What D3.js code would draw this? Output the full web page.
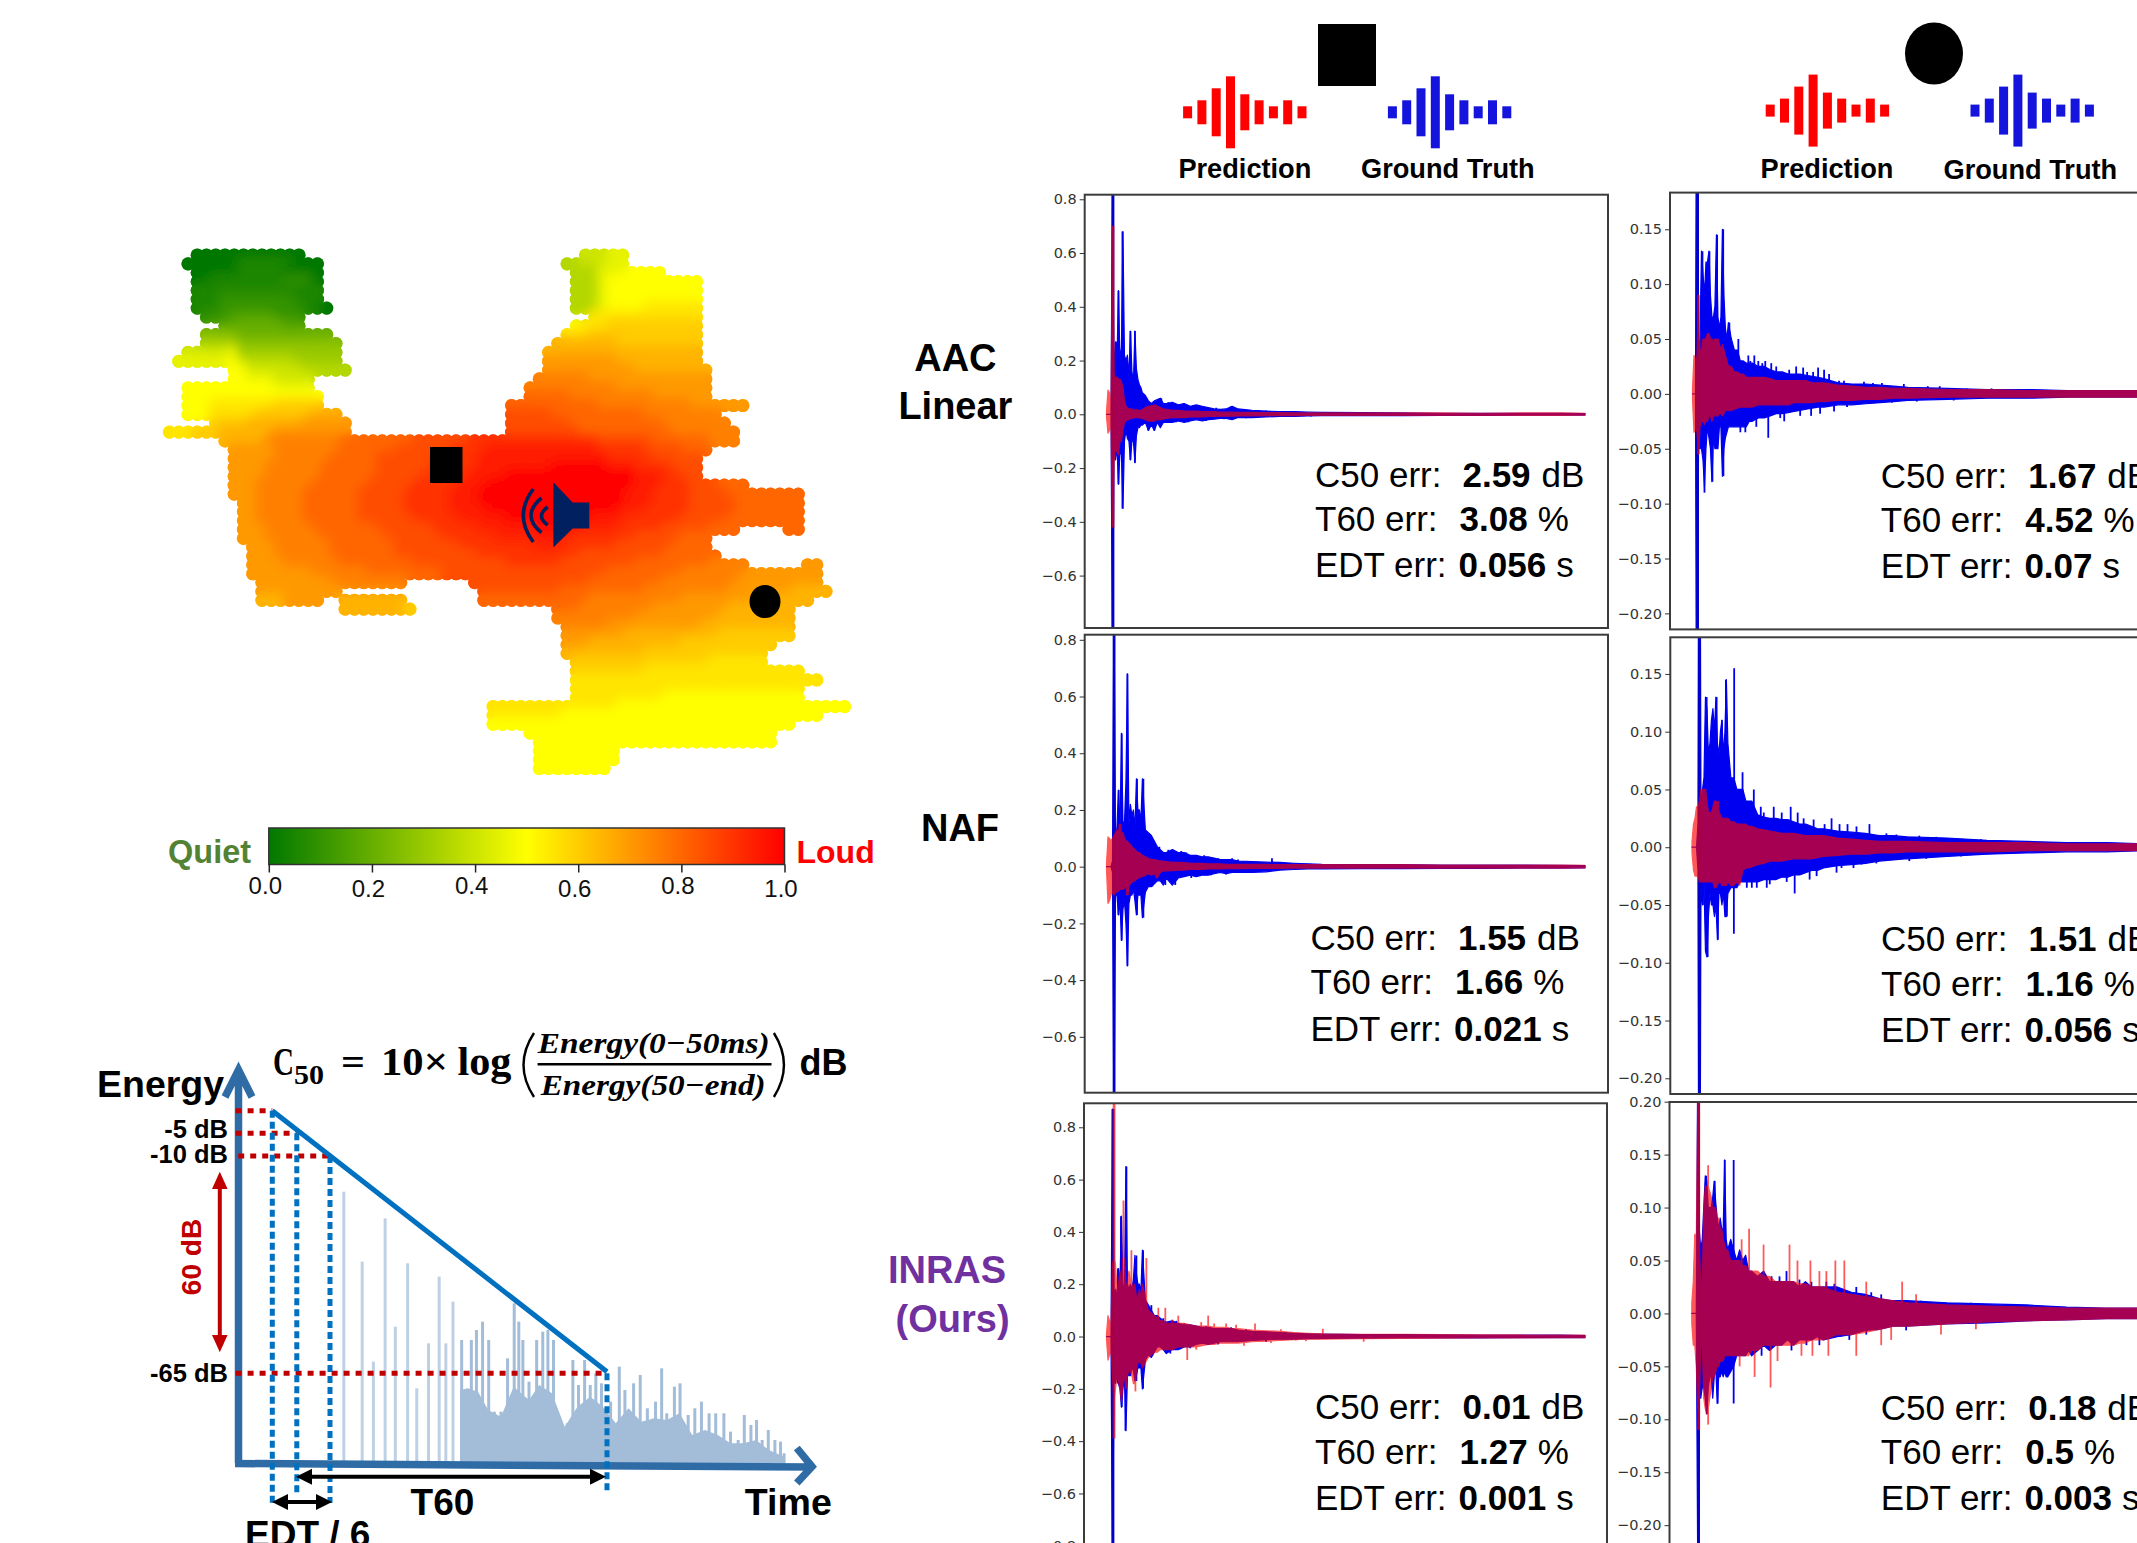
<!DOCTYPE html>
<html>
<head>
<meta charset="utf-8">
<style>
  html, body { margin: 0; padding: 0; background: #fff; overflow: hidden; }
  text { font-family: "Liberation Sans", Arial, sans-serif; }
</style>
<script src="https://cdn.jsdelivr.net/npm/d3@7"></script>
</head>
<body>
<div id="the_chart"></div>
<script>
// time grid shared by all the waveforms (no x axis in the picture, units are arbitrary)
var timeGrid = [0,1.5,3,4.5,6,7.5,9,10.5,12,13.5,15,16.5,18,19.5,21,22.5,24,25.5,27,28.5,30,31.5,33,34.5,36,
  39,42,45,48,51,54,57,60,
  66,72,78,84,90,96,102,108,114,120,126,132,
  146,160,174,188,202,216,
  256,296,336,376,416,456,480];

// square position, AAC Linear
var truthHiA = [0,0,0,0,.95,.12,.27,.2,.46,.2,.25,.68,.22,.2,.22,.14,.31,.16,.12,.31,.17,.13,.11,.1,.08,
  .07,.05,.04,.05,.055,.06,.04,.04,
  .045,.035,.04,.03,.035,.03,.025,.02,.018,.02,.03,.02,
  .015,.012,.01,.01,.008,.007,
  .006,.005,.004,.004,.004,.004,.003];
var truthLoA = [0,0,0,0,-.95,-.1,-.17,-.12,-.26,-.14,-.15,-.35,-.1,-.06,-.09,-.1,-.17,-.1,-.1,-.18,-.08,-.05,-.05,-.04,-.04,
  -.03,-.06,-.04,-.06,-.03,-.05,-.03,-.03,
  -.03,-.025,-.03,-.025,-.02,-.025,-.02,-.018,-.015,-.015,-.02,-.012,
  -.012,-.01,-.008,-.008,-.006,-.005,
  -.005,-.005,-.004,-.004,-.003,-.003,-.003];
var predHiA = [.01,.09,.08,.03,.7,.15,.13,.14,.13,.13,.12,.1,.05,.03,.025,.02,.02,.018,.018,.015,.015,.015,.015,.015,.018,
  .025,.03,.03,.035,.03,.025,.02,.018,
  .015,.015,.012,.012,.012,.01,.01,.01,.008,.008,.008,.007,
  .007,.006,.006,.005,.005,.005,
  .005,.005,.005,.004,.005,.005,.004];
var predLoA = [-.01,-.07,-.06,-.03,-.42,-.18,-.12,-.14,-.15,-.1,-.1,-.06,-.03,-.025,-.02,-.02,-.015,-.015,-.015,-.012,-.012,-.012,-.012,-.015,-.015,
  -.02,-.025,-.025,-.025,-.02,-.02,-.018,-.015,
  -.012,-.012,-.012,-.01,-.01,-.01,-.008,-.008,-.007,-.007,-.007,-.006,
  -.006,-.005,-.005,-.005,-.004,-.004,
  -.004,-.004,-.004,-.004,-.004,-.004,-.003];
var spikeTruthTimeA = [6.5,6.5,10,12,12,16,16,24,24,28.5,28.5,42,48,55,62,66,70,77,82,88,94,100,110,118,125,133,140,148,153,160,170,185,205,220,240];
var spikeTruthValA = [.95,-.95,.27,.46,-.26,.68,-.35,.31,-.17,.31,-.18,-.06,-.06,.06,.045,.04,-.03,.04,-.03,.035,.03,-.025,.024,-.018,.03,.018,-.015,-.013,.015,.014,.012,.01,-.008,.008,-.006];
var spikePredTimeA = [6.5,6.5,30,45,50,75,90];
var spikePredValA = [.7,-.42,.02,.035,.035,.015,-.012];

// square position, NAF
var truthHiB = [0,0,0,0,.02,.95,.1,.14,.27,.12,.47,.16,.15,.3,.68,.15,.22,.18,.2,.13,.31,.2,.2,.16,.31,
  .13,.12,.11,.09,.07,.06,.05,.05,
  .06,.05,.05,.04,.04,.035,.035,.03,.025,.025,.025,.02,
  .018,.016,.015,.012,.01,.008,
  .007,.007,.006,.006,.006,.005,.004];
var truthLoB = [0,0,0,0,-.02,-.95,-.1,-.1,-.17,-.12,-.26,-.15,-.12,-.2,-.35,-.13,-.1,-.1,-.08,-.12,-.17,-.1,-.1,-.1,-.18,
  -.09,-.07,-.07,-.06,-.05,-.05,-.065,-.04,
  -.065,-.04,-.035,-.03,-.035,-.03,-.03,-.025,-.02,-.025,-.02,-.02,
  -.02,-.018,-.012,-.01,-.008,-.008,
  -.007,-.007,-.006,-.006,-.005,-.005,-.004];
var predHiB = [.01,.105,.1,.09,.1,.11,.12,.13,.12,.15,.12,.12,.1,.09,.09,.08,.08,.07,.065,.06,.055,.05,.05,.045,.04,
  .035,.03,.025,.025,.022,.02,.02,.018,
  .015,.015,.014,.012,.012,.012,.01,.01,.01,.008,.008,.008,
  .008,.008,.007,.007,.007,.007,
  .007,.007,.006,.006,.006,.006,.005];
var predLoB = [-.01,-.13,-.12,-.1,-.09,-.1,-.09,-.09,-.085,-.08,-.08,-.08,-.075,-.07,-.1,-.07,-.06,-.055,-.05,-.05,-.045,-.04,-.04,-.035,-.035,
  -.03,-.025,-.03,-.025,-.04,-.02,-.015,-.015,
  -.014,-.012,-.012,-.01,-.01,-.01,-.008,-.008,-.008,-.007,-.007,-.007,
  -.006,-.006,-.006,-.005,-.005,-.005,
  -.005,-.005,-.005,-.005,-.005,-.005,-.004];
var spikeTruthTimeB = [7.6,7.6,12.2,15.3,21,30.6,37,12,15.3,21,30.6,37,46,53,59,62,67,69,75,80,85,90,98,105,112,120,126,132,140,150,166,175,190,205,235];
var spikeTruthValB = [.95,-.95,.27,.47,.68,.31,.31,-.17,-.26,-.35,-.17,-.18,-.07,.07,-.065,.06,.06,-.065,.055,.05,-.04,-.035,.04,-.03,.03,-.028,.03,.025,.02,-.02,.03,.015,.012,.01,-.008];
var spikePredTimeB = [13.5,21,50];
var spikePredValB = [.15,-.1,-.04];

// square position, INRAS
var truthHiC = [0,0,0,0,.87,.15,.18,.15,.26,.2,.46,.2,.18,.65,.2,.18,.2,.18,.22,.31,.24,.2,.2,.17,.33,
  .14,.12,.1,.08,.08,.07,.06,.055,
  .06,.05,.045,.045,.04,.035,.035,.03,.03,.03,.03,.025,
  .02,.018,.015,.012,.01,.009,
  .007,.007,.006,.005,.005,.005,.004];
var truthLoC = [0,0,0,0,-.95,-.15,-.18,-.15,-.18,-.2,-.27,-.2,-.15,-.36,-.15,-.15,-.15,-.12,-.13,-.17,-.15,-.12,-.12,-.12,-.2,
  -.09,-.07,-.08,-.06,-.04,-.04,-.05,-.065,
  -.05,-.05,-.04,-.04,-.03,-.025,-.03,-.025,-.02,-.02,-.02,-.02,
  -.015,-.012,-.01,-.01,-.008,-.007,
  -.006,-.005,-.005,-.005,-.004,-.004,-.004];
var predHiC = [.01,.08,.06,.05,.28,.3,.28,.18,.2,.25,.2,.3,.3,.2,.2,.25,.22,.2,.18,.2,.15,.15,.18,.15,.2,
  .15,.1,.09,.08,.07,.06,.06,.05,
  .05,.05,.05,.045,.04,.04,.04,.035,.035,.035,.03,.03,
  .025,.022,.02,.015,.012,.01,
  .008,.008,.007,.006,.006,.005,.005];
var predLoC = [-.01,-.09,-.07,-.05,-.15,-.25,-.2,-.15,-.17,-.2,-.25,-.18,-.15,-.2,-.15,-.13,-.13,-.15,-.18,-.18,-.13,-.1,-.1,-.1,-.12,
  -.1,-.08,-.07,-.06,-.06,-.05,-.05,-.05,
  -.05,-.04,-.04,-.04,-.04,-.035,-.03,-.03,-.025,-.025,-.025,-.025,
  -.02,-.018,-.015,-.012,-.01,-.01,
  -.008,-.007,-.006,-.005,-.005,-.004,-.004];
var spikeTruthTimeC = [6.5,6.5,11.5,14.5,20,30,36.7,11.5,15.3,19,30,36.7,45,57,64,70,70,78,84,92,100,112,125,140,160,180];
var spikeTruthValC = [.87,-.95,.26,.46,.65,.31,.33,-.18,-.27,-.36,-.17,-.2,.12,.07,-.065,.06,-.05,.05,-.045,.035,.04,-.03,.035,.028,-.02,.016];
var spikePredTimeC = [7.6,7.6,17,25,29,40,52,59,66,72,81,90,95,102,108,120,130,138,149,165,175,190,200,212,217,258];
var spikePredValC = [.9,-.39,.52,.33,-.21,.3,.11,.11,.065,.08,-.09,-.05,.055,.08,.05,.05,.045,-.035,.05,-.025,.028,-.015,-.018,-.012,.03,-.02];

// circle position, AAC Linear
var truthHiD = [0,0,0,.5,.04,.05,.13,.11,.09,.12,.12,.13,.09,.07,.07,.08,.145,.07,.06,.07,.15,.09,.06,.05,.065,
  .05,.04,.04,.03,.03,.028,.028,.028,
  .025,.025,.022,.02,.02,.018,.018,.018,.017,.016,.015,.014,
  .01,.009,.009,.008,.007,.006,
  .005,.004,.004,.003,.003,.003,.003];
var truthLoD = [0,0,0,-.5,-.05,-.05,-.05,-.06,-.085,-.05,-.03,-.04,-.05,-.08,-.04,-.05,-.05,-.05,-.03,-.03,-.075,-.05,-.04,-.035,-.03,
  -.03,-.03,-.03,-.03,-.03,-.03,-.025,-.025,
  -.022,-.022,-.02,-.018,-.018,-.017,-.016,-.015,-.014,-.013,-.012,-.012,
  -.01,-.01,-.009,-.008,-.007,-.006,
  -.005,-.004,-.004,-.003,-.003,-.003,-.003];
var predHiD = [.005,.035,.03,.035,.09,.04,.04,.05,.05,.05,.055,.055,.05,.05,.045,.05,.05,.05,.045,.04,.045,.04,.035,.03,.025,
  .025,.02,.02,.018,.018,.015,.015,.015,
  .015,.015,.014,.012,.012,.012,.012,.012,.012,.01,.01,.01,
  .008,.007,.006,.006,.005,.005,
  .004,.004,.003,.003,.003,.003,.003];
var predLoD = [-.005,-.035,-.03,-.035,-.055,-.03,-.025,-.025,-.028,-.025,-.025,-.02,-.02,-.025,-.02,-.02,-.02,-.02,-.018,-.018,-.02,-.018,-.015,-.015,-.015,
  -.015,-.014,-.013,-.012,-.012,-.012,-.012,-.012,
  -.01,-.01,-.01,-.01,-.01,-.01,-.008,-.008,-.008,-.008,-.007,-.007,
  -.006,-.006,-.005,-.005,-.004,-.004,
  -.003,-.003,-.003,-.003,-.003,-.003,-.003];
var spikeTruthTimeD = [5.1,5.1,10,17,24.7,30.8,12,20,31,37,46,48,53,56,58,62,64,66,70,73,76,79,84,88,92,97,104,108,111,115,119,121,126,128,132,137,142,147,152,155,165,172,181,190,200,212,225,236,248,262,275,300];
var spikeTruthValD = [.5,-.5,.13,.13,.145,.15,-.09,-.08,-.075,.065,.05,-.035,-.035,.035,.03,.035,-.03,.03,.028,.03,-.04,.028,.025,-.022,-.025,.022,.025,-.02,.024,.02,-.02,.02,.024,-.018,.022,.018,-.016,.012,.012,-.012,-.01,.011,.01,.01,-.008,.009,-.007,.007,.007,-.006,.005,.005];
var spikePredTimeD = [6,6,16.5,22];
var spikePredValD = [.09,-.055,.055,.05];

// circle position, NAF
var truthHiE = [0,0,0,0,.02,.5,.03,.05,.06,.13,.12,.08,.09,.11,.12,.1,.13,.09,.08,.1,.11,.08,.1,.145,.09,
  .06,.06,.05,.05,.05,.04,.04,.04,
  .028,.026,.025,.025,.024,.024,.022,.02,.02,.018,.016,.016,
  .014,.013,.012,.01,.01,.009,
  .008,.006,.005,.004,.004,.003,.003];
var truthLoE = [0,0,0,0,-.02,-.5,-.035,-.05,-.03,-.09,-.095,-.06,-.04,-.05,-.05,-.06,-.05,-.08,-.04,-.04,-.05,-.04,-.06,-.06,-.04,
  -.035,-.035,-.035,-.03,-.03,-.03,-.03,-.03,
  -.03,-.028,-.028,-.028,-.026,-.026,-.024,-.024,-.022,-.02,-.02,-.018,
  -.016,-.015,-.014,-.012,-.011,-.01,
  -.008,-.006,-.005,-.004,-.004,-.003,-.003];
var predHiE = [.005,.02,.025,.035,.035,.04,.05,.05,.05,.05,.04,.03,.03,.03,.035,.04,.04,.035,.03,.028,.025,.025,.025,.025,.025,
  .022,.022,.02,.02,.02,.02,.018,.018,
  .016,.015,.014,.013,.012,.012,.012,.011,.01,.01,.01,.01,
  .008,.007,.006,.005,.005,.005,
  .004,.004,.004,.003,.003,.003,.003];
var predLoE = [-.005,-.02,-.025,-.025,-.025,-.03,-.03,-.03,-.03,-.03,-.03,-.03,-.03,-.03,-.03,-.035,-.035,-.033,-.03,-.03,-.033,-.033,-.033,-.033,-.03,
  -.033,-.033,-.03,-.033,-.02,-.018,-.018,-.017,
  -.015,-.014,-.012,-.012,-.012,-.011,-.01,-.01,-.01,-.01,-.009,-.008,
  -.007,-.006,-.006,-.005,-.005,-.004,
  -.004,-.004,-.003,-.003,-.003,-.003,-.003];
var spikeTruthTimeE = [7.3,7.3,14.7,24.7,30,34,42.3,15.7,11,26,35,42,50.7,55,60,62,65,69,72,75,78,82,90,95,99,103,106,112,118,122,125,133,140,145,148,150,156,162,165,170,178,185,195,205,218,228,235,245,261,270,290,311,330];
var spikeTruthValE = [.5,-.5,.13,.13,.11,.145,.155,-.095,-.05,-.08,-.06,-.075,.065,-.035,-.035,.05,-.035,.035,.03,-.035,-.032,.035,.03,-.03,.035,-.04,.03,.025,-.028,.024,-.025,.02,.025,-.022,.02,-.018,.02,-.018,.018,-.015,.02,-.014,.012,.011,-.012,.01,-.01,.009,.008,-.008,.007,.006,-.005];
var spikePredTimeE = [13,26];
var spikePredValE = [.05,.04];

// circle position, INRAS
var truthHiF = [0,0,0,0,.25,.08,.06,.07,.1,.13,.125,.1,.1,.1,.11,.125,.105,.09,.08,.09,.08,.08,.145,.07,.06,
  .07,.06,.05,.06,.05,.055,.04,.04,
  .035,.04,.03,.03,.03,.03,.03,.025,.03,.025,.025,.025,
  .025,.02,.018,.014,.012,.012,
  .01,.009,.008,.006,.005,.005,.004];
var truthLoF = [0,0,0,0,-.25,-.08,-.08,-.07,-.07,-.08,-.095,-.07,-.06,-.06,-.08,-.06,-.05,-.085,-.06,-.06,-.055,-.06,-.055,-.06,-.06,
  -.055,-.05,-.04,-.04,-.04,-.04,-.035,-.04,
  -.035,-.03,-.035,-.03,-.03,-.025,-.03,-.025,-.025,-.025,-.022,-.025,
  -.022,-.02,-.016,-.015,-.012,-.012,
  -.01,-.009,-.007,-.006,-.005,-.005,-.004];
var predHiF = [.01,.03,.075,.07,.2,.06,.03,.03,.1,.12,.12,.12,.115,.11,.1,.1,.1,.09,.09,.08,.08,.07,.065,.06,.06,
  .05,.05,.05,.05,.045,.045,.04,.04,
  .04,.035,.035,.03,.03,.03,.03,.028,.028,.025,.025,.025,
  .02,.018,.016,.014,.012,.01,
  .008,.007,.006,.005,.005,.005,.004];
var predLoF = [-.01,-.03,-.03,-.05,-.09,-.08,-.03,-.03,-.08,-.09,-.095,-.09,-.08,-.07,-.06,-.06,-.055,-.05,-.05,-.045,-.045,-.045,-.04,-.04,-.04,
  -.04,-.04,-.04,-.04,-.04,-.04,-.04,-.035,
  -.035,-.03,-.03,-.03,-.03,-.03,-.03,-.028,-.028,-.025,-.025,-.025,
  -.02,-.02,-.018,-.015,-.012,-.012,
  -.01,-.008,-.007,-.006,-.005,-.005,-.004];
var spikeTruthTimeF = [6.8,6.8,14.4,23,33,42,15,26,42,50,56,60,70,80,88,95,100,108,115,120,128,135,143,150,158,165,175,180,190,200,215,230,250,280,320];
var spikeTruthValF = [.25,-.25,.13,.125,.145,.145,-.095,-.085,-.085,.05,.04,.03,-.04,.035,.035,.04,-.035,.032,-.03,.03,-.03,.03,.028,-.022,-.025,.025,-.02,.02,.018,.012,-.016,.012,.01,.01,.008];
var spikePredTimeF = [7,7,16.4,16.4,48,50,57.5,63,72,79,86,98,106,110,119,121,128,135,137,144,153,165,175,190,200,211,225,250,285];
var spikePredValF = [.25,-.11,.14,-.105,-.05,.07,.08,-.06,.065,-.07,-.045,.065,.05,-.04,.05,-.04,.04,.04,-.04,.05,.05,-.04,.03,-.03,-.025,.03,.018,-.02,-.015];

// tick labels of the six plots
var ticksWide = [.8,.6,.4,.2,0,-.2,-.4,-.6];
var ticksWideLong = [.8,.6,.4,.2,0,-.2,-.4,-.6,-.8];
var ticksNarrow = [.15,.1,.05,0,-.05,-.1,-.15,-.2];
var ticksNarrowLong = [.2,.15,.1,.05,0,-.05,-.1,-.15,-.2];

// error read-outs, order A..F
var c50Err = ["2.59","1.55","0.01","1.67","1.51","0.18"];
var t60Err = ["3.08","1.66","1.27","4.52","1.16","0.5"];
var edtErr = ["0.056","0.021","0.001","0.07","0.056","0.003"];

// loudness map: one string per dot row, "startColumn:runs", a=0.00 ... k=0.50 ... u=1.00
var heatRows = [
  "3:a12 45:i3j2",
  "2:a6b6a3 43:h2i3j2",
  "3:a5b5a4 44:h3j3k4",
  "3:a2b8c3a1 44:h3j1k10",
  "3:b14 44:h3j1k10",
  "3:b3c8b3 44:h3j1k10",
  "3:b3c9b2a1 44:h3j1k4l6",
  "4:c3d5c3 46:l12",
  "6:d2e5d2 44:k1l3m10",
  "4:f4e10 43:l3m12",
  "4:g4f11 42:n7m9",
  "2:i5j1g11 41:n17",
  "1:j6k1h6g5 41:o8n9",
  "7:k2i6h5 41:o10n8",
  "7:k2j3i4 40:p6o13",
  "2:k10j4 39:p10o10",
  "2:k15 39:q5p9o6",
  "2:k3l7m5 37:q10p10o6",
  "2:k3l5m6n3 37:r5q10p8",
  "5:m4n6o5 37:r7q10p7",
  "0:l3m3n6o8 37:r8q10p7",
  "6:n5p8q8r6s14r6q6p3",
  "7:o5p7q6r6s4t12s5r4q3",
  "7:o5p6q5r6s5t14s5r5",
  "7:o4p6q6r6s5t8u6t3s4r3",
  "7:o4p6q6r5s5t4u14t3s2r2",
  "7:o3p6q6r5s5t3u16t3s3r3q3",
  "7:o3p5q6r5s5t3u16t3s4r4q8",
  "8:o2p5q6r5s5t3u16t3s4r5q7",
  "8:o2p5q6r5s5t4u14t3s5r5q7",
  "8:o2p5q6r6s5t5u9t4s6r5q8",
  "8:o3p5q7r6s5t6u5t4s5r5q3 67:q2",
  "8:o3p6q7r6s6t8s7r5q3",
  "9:o3p6q7r7s8t3s6r6q4",
  "9:o3p6q7r9s11r9q6",
  "9:o4p6q8r10s6r8q8p4 69:o2",
  "9:o7p6q8r18q8p7o8",
  "10:o8p8 33:r13q8p8o9",
  "10:o9 34:r9q9p9o7n4",
  "10:n3o4 19:n7 34:q12p10o8n6",
  "19:n7m1 42:q3p8o8n7",
  "42:p9o9n8",
  "43:p5o10n10",
  "43:o7n10m8",
  "43:o3n10m10",
  "43:n9m13",
  "44:m15l6",
  "44:m8l17",
  "44:l27",
  "44:l25",
  "44:l10k15",
  "35:l14k25",
  "35:l8k28",
  "35:k33",
  "39:k27",
  "40:k26",
  "40:k9",
  "40:k9",
  "40:k8"
];

var barTicks = [0,.2,.4,.6,.8,1];

// energy decay sketch
var decayTime = [517,553,575,598,618,642,660,683,704,717,731,748,767,777,789,801,812,825,838,851,860,868,880,895,907,917,928,940,955,966,977,989,1000,1011,1022,1040,1057,1068,1085,1098,1112,1128,1140,1150,1165,1176,1192,1205,1218,1233,1246,1262,1275,1290,1302,1315,1326,1337,1349,1362,1373,1380];
var decayLevel = [815,605,305,735,410,600,225,360,560,360,485,370,370,400,425,370,155,155,315,480,425,370,245,370,395,400,370,120,120,310,235,310,235,270,240,185,290,220,240,265,165,185,285,150,230,240,145,165,185,150,150,150,95,70,145,115,130,70,100,70,65,30];
var floorTime = [745,760,780,800,825,850,880,900,925,950,975,1000,1025,1050,1075,1100,1125,1150,1175,1200,1225,1250,1275,1300,1325,1350,1380];
var floorLevel = [220,225,215,160,140,230,190,235,210,110,170,200,170,120,165,125,135,130,150,85,100,85,60,60,70,40,20];
var dbMarks = [0,-5,-10,-65];

var iconBars = [1,2,4,6,3,2,1,2,1];

var w = 2137, h = 1543;
var svg = d3.select("#the_chart").append("svg")
  .attr("width", w).attr("height", h)
  .style("display", "block");
var defs = svg.append("defs");

var loudColor = d3.scaleLinear().domain([0, .5, 1]).range(["#007800", "#ffff00", "#ff0000"]);

function gen_vis() {
  drawHeatmap();
  drawColorBar();
  drawDecay();
  drawHeader();
  drawRowLabels();
  drawPanels();
}

function parseHeatRow(row, r) {
  var dots = [];
  row.split(" ").forEach(function (span) {
    var parts = span.split(":");
    var c = +parts[0];
    var runs = parts[1].match(/[a-u]\d+/g);
    runs.forEach(function (run) {
      var v = (run.charCodeAt(0) - 97) / 20;
      var n = +run.slice(1);
      for (var i = 0; i < n; i++) {
        dots.push({ c: c, r: r, v: v });
        c++;
      }
    });
  });
  return dots;
}

function drawHeatmap() {
  var colScale = d3.scaleLinear().domain([0, 73]).range([169.5, 844.5]);
  var rowScale = d3.scaleLinear().domain([0, 58]).range([255, 768.5]);

  var blur = defs.append("filter").attr("id", "soft")
    .attr("x", "-5%").attr("y", "-5%").attr("width", "110%").attr("height", "110%");
  blur.append("feGaussianBlur").attr("stdDeviation", 6);

  var dots = [];
  heatRows.forEach(function (row, r) {
    dots = dots.concat(parseHeatRow(row, r));
  });

  var clip = defs.append("clipPath").attr("id", "mapShape");
  clip.selectAll("circle")
    .data(dots)
    .enter().append("circle")
    .attr("cx", function (d) { return colScale(d.c); })
    .attr("cy", function (d) { return rowScale(d.r); })
    .attr("r", 6.6);

  // sharp dots keep the scalloped outline, a blurred copy clipped to them smooths the colour steps
  function dotLayer(parent, radius) {
    parent.selectAll("circle")
      .data(dots)
      .enter().append("circle")
      .attr("cx", function (d) { return colScale(d.c); })
      .attr("cy", function (d) { return rowScale(d.r); })
      .attr("r", radius)
      .attr("fill", function (d) { return loudColor(d.v); });
  }
  dotLayer(svg.append("g"), 6.6);
  dotLayer(svg.append("g").attr("clip-path", "url(#mapShape)").append("g").attr("filter", "url(#soft)"), 8);

  // markers on the map
  svg.append("rect").attr("x", 430).attr("y", 447).attr("width", 32.5).attr("height", 36).attr("fill", "#000");
  svg.append("ellipse").attr("cx", 765).attr("cy", 601.5).attr("rx", 15.5).attr("ry", 16.6).attr("fill", "#000");

  // speaker
  svg.append("path")
    .attr("d", "M553.4,482.3 L572.6,502.5 L589.3,502.5 L589.3,528.5 L572.6,528.5 L553.4,547.4 Z")
    .attr("fill", "#002060");
  var arcs = ["M533.3,489 Q513.3,515.5 533.3,542", "M541.5,498 Q520.5,515.5 541.5,532.6", "M547.7,507 Q535.3,516 547.7,525"];
  svg.selectAll("path.wave").data(arcs).enter().append("path")
    .attr("class", "wave")
    .attr("d", function (d) { return d; })
    .attr("fill", "none").attr("stroke", "#002060").attr("stroke-width", 3.6);
}

function drawColorBar() {
  var x0 = 268.8, x1 = 784.5, y0 = 828, y1 = 864.5;
  var grad = defs.append("linearGradient").attr("id", "barGrad");
  [0, .25, .5, .75, 1].forEach(function (s) {
    grad.append("stop").attr("offset", s).attr("stop-color", loudColor(s));
  });
  svg.append("rect").attr("x", x0).attr("y", y0).attr("width", x1 - x0).attr("height", y1 - y0)
    .attr("fill", "url(#barGrad)").attr("stroke", "#333").attr("stroke-width", 1.5);

  var barScale = d3.scaleLinear().domain([0, 1]).range([x0, x1]);
  var barAxis = d3.axisBottom(barScale).tickValues(barTicks).tickFormat(d3.format(".1f")).tickSize(8);
  var g = svg.append("g").attr("transform", "translate(0," + y1 + ")").call(barAxis);
  g.select(".domain").remove();
  g.selectAll("line").attr("stroke", "#222").attr("stroke-width", 1.5);
  g.selectAll("text")
    .attr("x", -4)
    .attr("y", function (d, i) { return i % 2 ? 15 : 12; })
    .style("font-size", "24px")
    .style("font-family", "'Liberation Sans'")
    .attr("fill", "#111");

  svg.append("text").attr("x", 168).attr("y", 862.5).text("Quiet")
    .attr("fill", "#548235").attr("font-weight", "bold").attr("font-size", 32.5);
  svg.append("text").attr("x", 796.5).attr("y", 862.5).text("Loud")
    .attr("fill", "#ff0000").attr("font-weight", "bold").attr("font-size", 32);
}

function drawDecay() {
  var axisBlue = "#2f6ca6", lineBlue = "#0070c0", darkRed = "#c00000";
  var tx = d3.scaleLinear().domain([310, 1430]).range([238.2, 809.6]);
  var ey = d3.scaleLinear().domain([0, 1058]).range([1463.3, 1110.7]);
  // the sketch is not to scale, so the dB marks are spaced as drawn
  var dbY = d3.scaleLinear().domain(dbMarks).range([1110.7, 1133.3, 1156, 1373.3]);

  svg.append("path")
    .datum(d3.range(floorTime.length))
    .attr("d", d3.area()
      .x(function (i) { return tx(floorTime[i]); })
      .y0(ey(0))
      .y1(function (i) { return ey(floorLevel[i]); }))
    .attr("fill", "#a3bdd9");

  svg.selectAll("rect.decay")
    .data(decayTime)
    .enter().append("rect")
    .attr("class", "decay")
    .attr("x", function (d) { return tx(d) - 1.5; })
    .attr("width", 3)
    .attr("y", function (d, i) { return ey(decayLevel[i]); })
    .attr("height", function (d, i) { return ey(0) - ey(decayLevel[i]); })
    .attr("fill", "#a3bdd9")
    .attr("opacity", function (d) { return d < 740 ? .7 : 1; });

  // axes
  svg.append("path").attr("d", "M238.5,1463 L238.5,1074 M225,1097 L238.5,1070 L252,1097")
    .attr("fill", "none").attr("stroke", axisBlue).attr("stroke-width", 7.5);
  svg.append("path").attr("d", "M235,1463.5 L811,1467 M796.8,1448 L812,1466.7 L796.8,1483")
    .attr("fill", "none").attr("stroke", axisBlue).attr("stroke-width", 7.5);

  // dotted guides
  var reds = [[235.6, 272.3, 0], [235.6, 296.8, -5], [238.2, 330, -10], [235.6, 607, -65]];
  svg.selectAll("line.red").data(reds).enter().append("line")
    .attr("class", "red")
    .attr("x1", function (d) { return d[0]; }).attr("x2", function (d) { return d[1]; })
    .attr("y1", function (d) { return dbY(d[2]); }).attr("y2", function (d) { return dbY(d[2]); })
    .attr("stroke", darkRed).attr("stroke-width", 5).attr("stroke-dasharray", "6,6");
  var blues = [[272.3, 0, 1503], [296.8, -5, 1493], [330, -10, 1503], [607, -65, 1492]];
  svg.selectAll("line.blue").data(blues).enter().append("line")
    .attr("class", "blue")
    .attr("x1", function (d) { return d[0]; }).attr("x2", function (d) { return d[0]; })
    .attr("y1", function (d) { return dbY(d[1]); }).attr("y2", function (d) { return d[2]; })
    .attr("stroke", lineBlue).attr("stroke-width", 5).attr("stroke-dasharray", "7,4");

  svg.append("line")
    .attr("x1", 272.3).attr("y1", dbY(0)).attr("x2", 607).attr("y2", 1371.7)
    .attr("stroke", lineBlue).attr("stroke-width", 5);

  doubleArrowH(304, 598, 1476.7, 4, "#000");
  doubleArrowH(280, 324, 1502, 4, "#000");
  svg.append("path")
    .attr("d", "M219.8,1171.7 L212,1189 L217.8,1189 L217.8,1335 L212,1335 L219.8,1352.3 L227.6,1335 L221.8,1335 L221.8,1189 L227.6,1189 Z")
    .attr("fill", darkRed);

  svg.append("text").text("60 dB")
    .attr("transform", "translate(201,1257) rotate(-90)")
    .attr("text-anchor", "middle")
    .attr("fill", darkRed).attr("font-weight", "bold").attr("font-size", 28);

  function boldText(str, x, y, size, anchor) {
    svg.append("text").text(str).attr("x", x).attr("y", y)
      .attr("text-anchor", anchor || "start")
      .attr("font-weight", "bold").attr("font-size", size).attr("fill", "#000");
  }
  boldText("Energy", 97, 1097, 37.5);
  boldText("-5 dB", 228, 1138, 25.5, "end");
  boldText("-10 dB", 228, 1163, 25.5, "end");
  boldText("-65 dB", 228, 1382, 25.5, "end");
  boldText("T60", 410.6, 1515, 37);
  boldText("Time", 744.8, 1515, 37.6);
  boldText("EDT / 6", 245, 1547, 37);
  boldText("dB", 799.4, 1075, 36);

  // C50 formula
  function serif(str, x, y, size, len, italic) {
    var t = svg.append("text").text(str).attr("x", x).attr("y", y)
      .style("font-family", "'Liberation Serif'")
      .attr("font-weight", "bold").attr("font-size", size).attr("fill", "#000");
    if (italic) t.attr("font-style", "italic");
    if (len) t.attr("textLength", len).attr("lengthAdjust", "spacingAndGlyphs");
  }
  serif("C", 273, 1075, 39, 21);
  serif("50", 294, 1084, 27, 30);
  serif("=", 341, 1075, 38, 24);
  serif("10×", 381, 1075, 39, 67);
  serif("log", 457.5, 1075, 39, 54);
  serif("Energy(0−50ms)", 537.7, 1053, 30, 232, true);
  serif("Energy(50−end)", 540.7, 1095, 30, 225, true);
  svg.append("line").attr("x1", 537.6).attr("x2", 771.5).attr("y1", 1064.3).attr("y2", 1064.3)
    .attr("stroke", "#000").attr("stroke-width", 2.5);
  svg.append("path").attr("d", "M534,1033 Q513,1065 534,1097 M773.9,1033 Q794,1065 773.9,1097")
    .attr("fill", "none").attr("stroke", "#000").attr("stroke-width", 2.4);
}

function doubleArrowH(x1, x2, y, sw, color) {
  svg.append("line").attr("x1", x1).attr("x2", x2).attr("y1", y).attr("y2", y)
    .attr("stroke", color).attr("stroke-width", sw);
  svg.append("path")
    .attr("d", "M" + (x1 - 8) + "," + y + " L" + (x1 + 8) + "," + (y - 8) + " L" + (x1 + 8) + "," + (y + 8) + " Z" +
      "M" + (x2 + 8) + "," + y + " L" + (x2 - 8) + "," + (y - 8) + " L" + (x2 - 8) + "," + (y + 8) + " Z")
    .attr("fill", color);
}

function drawHeader() {
  svg.append("rect").attr("x", 1318).attr("y", 24).attr("width", 58).attr("height", 62).attr("fill", "#000");
  svg.append("ellipse").attr("cx", 1934).attr("cy", 53.5).attr("rx", 29).attr("ry", 31).attr("fill", "#000");

  var icons = [
    { x: 1187.6, y: 112.3, color: "#ff0000" },
    { x: 1392.4, y: 112.3, color: "#1414dc" },
    { x: 1770.2, y: 110.6, color: "#ff0000" },
    { x: 1975, y: 110.6, color: "#1414dc" }
  ];
  var barX = d3.scaleLinear().domain([0, 1]).range([0, 14.3]);
  var barH = d3.scaleLinear().domain([0, 6]).range([0, 72]);
  icons.forEach(function (ic) {
    svg.append("g").selectAll("rect")
      .data(iconBars)
      .enter().append("rect")
      .attr("x", function (d, i) { return ic.x + barX(i) - 4.5; })
      .attr("y", function (d) { return ic.y - barH(d) / 2; })
      .attr("width", 9)
      .attr("height", function (d) { return barH(d); })
      .attr("fill", ic.color);
  });

  var labels = [
    ["Prediction", 1178.4, 178.3], ["Ground Truth", 1361, 178.3],
    ["Prediction", 1760.5, 177.5], ["Ground Truth", 1943.5, 178.8]
  ];
  svg.selectAll("text.head").data(labels).enter().append("text")
    .attr("class", "head")
    .attr("x", function (d) { return d[1]; }).attr("y", function (d) { return d[2]; })
    .text(function (d) { return d[0]; })
    .attr("font-weight", "bold").attr("font-size", 27.2).attr("fill", "#000");
}

function drawRowLabels() {
  var rows = [
    ["AAC", 955.4, 370.5, "#000"], ["Linear", 955.4, 418.5, "#000"],
    ["NAF", 960, 841, "#000"],
    ["INRAS", 947, 1283, "#7030a0"], ["(Ours)", 952.6, 1332, "#7030a0"]
  ];
  svg.selectAll("text.rowlab").data(rows).enter().append("text")
    .attr("class", "rowlab")
    .attr("x", function (d) { return d[1]; }).attr("y", function (d) { return d[2]; })
    .attr("text-anchor", "middle")
    .attr("font-weight", "bold").attr("font-size", 38)
    .attr("fill", function (d) { return d[3]; })
    .text(function (d) { return d[0]; });
}

function drawPanels() {
  var panels = [
    { id: "A", left: 1084.7, right: 1608, top: 194.7, bottom: 628, vTop: .817, vBottom: -.795, t0: 1106.5, ticks: ticksWide, fmt: ".1f",
      hi: truthHiA, lo: truthLoA, pHi: predHiA, pLo: predLoA, sT: spikeTruthTimeA, sV: spikeTruthValA, rT: spikePredTimeA, rV: spikePredValA, tx: 1315, ty: [486.7, 531, 577.3] },
    { id: "B", left: 1084.7, right: 1608, top: 634.7, bottom: 1092.7, vTop: .818, vBottom: -.797, t0: 1106.5, ticks: ticksWide, fmt: ".1f",
      hi: truthHiB, lo: truthLoB, pHi: predHiB, pLo: predLoB, sT: spikeTruthTimeB, sV: spikeTruthValB, rT: spikePredTimeB, rV: spikePredValB, tx: 1310.5, ty: [950, 994.3, 1040.7] },
    { id: "C", left: 1084, right: 1607, top: 1103.3, bottom: 1551, vTop: .8917, vBottom: -.82, t0: 1106.5, ticks: ticksWideLong, fmt: ".1f",
      hi: truthHiC, lo: truthLoC, pHi: predHiC, pLo: predLoC, sT: spikeTruthTimeC, sV: spikeTruthValC, rT: spikePredTimeC, rV: spikePredValC, tx: 1315, ty: [1419.3, 1464, 1510] },
    { id: "D", left: 1670, right: 2193, top: 192.6, bottom: 629.4, vTop: .1834, vBottom: -.2146, t0: 1692.5, ticks: ticksNarrow, fmt: ".2f",
      hi: truthHiD, lo: truthLoD, pHi: predHiD, pLo: predLoD, sT: spikeTruthTimeD, sV: spikeTruthValD, rT: spikePredTimeD, rV: spikePredValD, tx: 1880.8, ty: [487.8, 531.8, 577.5] },
    { id: "E", left: 1670.3, right: 2193, top: 637.3, bottom: 1094, vTop: .1817, vBottom: -.2136, t0: 1692, ticks: ticksNarrow, fmt: ".2f",
      hi: truthHiE, lo: truthLoE, pHi: predHiE, pLo: predLoE, sT: spikeTruthTimeE, sV: spikeTruthValE, rT: spikePredTimeE, rV: spikePredValE, tx: 1881, ty: [951, 996, 1042] },
    { id: "F", left: 1669.5, right: 2193, top: 1102, bottom: 1551, vTop: .1997, vBottom: -.2244, t0: 1691.8, ticks: ticksNarrowLong, fmt: ".2f",
      hi: truthHiF, lo: truthLoF, pHi: predHiF, pLo: predLoF, sT: spikeTruthTimeF, sV: spikeTruthValF, rT: spikePredTimeF, rV: spikePredValF, tx: 1880.8, ty: [1420, 1464, 1510] }
  ];

  var errLines = [
    { name: "C50 err:", vals: c50Err, unit: "dB", gap: 21, ugap: 11 },
    { name: "T60 err:", vals: t60Err, unit: "%", gap: 22, ugap: 10 },
    { name: "EDT err:", vals: edtErr, unit: "s", gap: 12, ugap: 10 }
  ];

  panels.forEach(function (p, n) {
    var xscale = d3.scaleLinear().domain([0, 480]).range([p.t0, p.t0 + 478.5]);
    var yscale = d3.scaleLinear().domain([p.vBottom, p.vTop]).range([p.bottom, p.top]);

    defs.append("clipPath").attr("id", "clip" + p.id)
      .append("rect").attr("x", p.left).attr("y", p.top)
      .attr("width", p.right - p.left).attr("height", p.bottom - p.top);

    var g = svg.append("g").attr("clip-path", "url(#clip" + p.id + ")");

    function trace(hi, lo, spikeT, spikeV, color, direct, opacity) {
      var layer = g.append("g").attr("opacity", opacity);
      var area = d3.area()
        .x(function (d) { return xscale(d); })
        .y0(function (d, i) { return yscale(lo[i]); })
        .y1(function (d, i) { return yscale(hi[i]); });
      layer.append("path").datum(timeGrid)
        .attr("d", area)
        .attr("fill", color).attr("stroke", color).attr("stroke-width", 1.2)
        .attr("stroke-linejoin", "round");
      layer.selectAll("line")
        .data(spikeT)
        .enter().append("line")
        .attr("x1", function (d) { return xscale(d); })
        .attr("x2", function (d) { return xscale(d); })
        .attr("y1", yscale(0))
        .attr("y2", function (d, i) { return yscale(spikeV[i]); })
        // the first two are the direct sound, heavier and darker
        .attr("stroke", function (d, i) { return i < 2 ? direct : color; })
        .attr("stroke-width", function (d, i) { return i < 2 ? 2.8 : 1.8; });
    }
    trace(p.hi, p.lo, p.sT, p.sV, "#0000f0", "#0000c8", 1);
    trace(p.pHi, p.pLo, p.rT, p.rV, "#ff0000", "#ff0000", .65);

    svg.append("rect")
      .attr("x", p.left).attr("y", p.top)
      .attr("width", p.right - p.left).attr("height", p.bottom - p.top)
      .attr("fill", "none").attr("stroke", "#3c3c3c").attr("stroke-width", 2);

    var yaxis = d3.axisLeft(yscale).tickValues(p.ticks).tickFormat(d3.format(p.fmt)).tickSize(5);
    var ag = svg.append("g").attr("transform", "translate(" + p.left + ",0)").call(yaxis);
    ag.select(".domain").remove();
    ag.selectAll("line").attr("stroke", "#333");
    ag.selectAll("text")
      .style("font-family", "'DejaVu Sans'")
      .style("font-size", "14.5px")
      .attr("fill", "#333");

    errLines.forEach(function (line, i) {
      var t = svg.append("text")
        .attr("x", p.tx).attr("y", p.ty[i])
        .attr("font-size", 35).attr("fill", "#000");
      t.append("tspan").text(line.name);
      t.append("tspan").attr("dx", line.gap).attr("font-weight", "bold").text(line.vals[n]);
      t.append("tspan").attr("dx", line.ugap).text(line.unit);
    });
  });
}

gen_vis();
</script>
</body>
</html>
